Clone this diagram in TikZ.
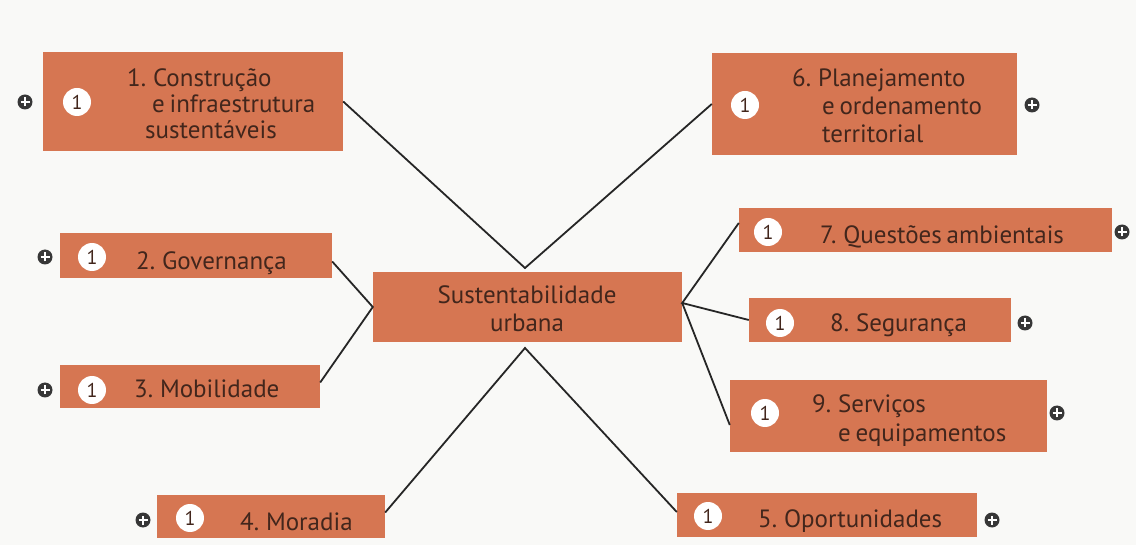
\documentclass[tikz,border=0pt]{standalone}
\usepackage{fontspec}
\setmainfont[WordSpace=0.7]{PT Sans}
\definecolor{boxfill}{RGB}{214,118,82}
\definecolor{txt}{RGB}{66,38,28}
\definecolor{bg}{RGB}{249,249,247}
\definecolor{plusc}{RGB}{55,55,55}
\tikzset{
  box/.style={fill=boxfill, draw=none, inner sep=0, rectangle},
  lbl/.style={anchor=base west, inner sep=0, text=txt, font=\fontsize{25}{27}\selectfont},
  clbl/.style={anchor=base, inner sep=0, text=txt, font=\fontsize{25}{27}\selectfont},
  num/.style={circle, fill=white, minimum size=28pt, inner sep=0, text=txt, font=\fontsize{20}{20}\selectfont},
  plus/.style={circle, fill=plusc, minimum size=15pt, inner sep=0,
    path picture={
      \draw[white, line width=2.4pt] ([xshift=-4.5pt]path picture bounding box.center) -- ([xshift=4.5pt]path picture bounding box.center);
      \draw[white, line width=2.4pt] ([yshift=-4.5pt]path picture bounding box.center) -- ([yshift=4.5pt]path picture bounding box.center);
    }},
  conn/.style={draw=black!85, line width=1.8pt}
}
\begin{document}
\begin{tikzpicture}[x=1pt, y=-1pt]
\fill[bg] (0,0) rectangle (1136,545);
\useasboundingbox (0,0) rectangle (1136,545);

% apex coordinates
\coordinate (ctop) at (525,268);
\coordinate (cbot) at (525,348);

% boxes
\node[box, minimum width=300pt, minimum height=99pt] (b1) at (193,101.5) {};
\node[box, minimum width=305pt, minimum height=102pt] (b6) at (864.5,104) {};
\node[box, minimum width=309pt, minimum height=70pt] (c) at (527.5,307) {};
\node[box, minimum width=272pt, minimum height=45pt] (b2) at (196,255.5) {};
\node[box, minimum width=260pt, minimum height=43pt] (b3) at (190,386.5) {};
\node[box, minimum width=228pt, minimum height=43pt] (b4) at (271,516.5) {};
\node[box, minimum width=300pt, minimum height=44pt] (b5) at (827,515) {};
\node[box, minimum width=373pt, minimum height=44pt] (b7) at (925.5,230) {};
\node[box, minimum width=262pt, minimum height=44pt] (b8) at (880,320) {};
\node[box, minimum width=317pt, minimum height=72pt] (b9) at (888.5,416) {};

% connectors
\draw[conn] (b1.east) -- (ctop) -- (b6.west);
\draw[conn] ([yshift=-6pt]b2.east) -- (c.west) -- ([yshift=4pt]b3.east);
\draw[conn] ([yshift=4pt]b4.east) -- (cbot) -- ([yshift=3pt]b5.west);
\draw[conn] ([yshift=7pt]b7.west) -- ([yshift=4pt]c.east) -- (b8.west);
\draw[conn] ([yshift=4pt]c.east) -- ([yshift=-9pt]b9.west);

% texts
\node[lbl] (t1a) at (127,87) {1. Construção};
\node[lbl] (t1b) at (152,113) {e infraestrutura};
\node[lbl] (t1c) at (145,139) {sustentáveis};
\node[lbl] (t6a) at (792,87) {6. Planejamento};
\node[lbl] (t6b) at (822,115) {e ordenamento};
\node[lbl] (t6c) at (822,143) {territorial};
\node[lbl] (t2) at (136,270) {2. Governança};
\node[lbl] (t3) at (134,398) {3. Mobilidade};
\node[lbl] (t4) at (240,530) {4. Moradia};
\node[lbl] (t5) at (758,527) {5. Oportunidades};
\node[lbl] (t7) at (820,244) {7. Questões ambientais};
\node[lbl] (t8) at (830,332) {8. Segurança};
\node[lbl] (t9a) at (812,413) {9. Serviços};
\node[lbl] (t9b) at (838,442) {e equipamentos};
\node[clbl] (tca) at (527,304) {Sustentabilidade};
\node[clbl] (tcb) at (527,332) {urbana};

% number badges
\node[num] (n1) at (77,102) {1};
\node[num] (n6) at (745,105) {1};
\node[num] (n2) at (92,257) {1};
\node[num] (n3) at (92,390) {1};
\node[num] (n4) at (190,518) {1};
\node[num] (n5) at (708,516) {1};
\node[num] (n7) at (768,232) {1};
\node[num] (n8) at (780,323) {1};
\node[num] (n9) at (765,413) {1};

% plus icons
\node[plus] (p1) at (25,102) {};
\node[plus] (p6) at (1032,105) {};
\node[plus] (p2) at (45,257) {};
\node[plus] (p3) at (45,390) {};
\node[plus] (p4) at (143,520) {};
\node[plus] (p5) at (992,520) {};
\node[plus] (p7) at (1122,232) {};
\node[plus] (p8) at (1025,323) {};
\node[plus] (p9) at (1057,413) {};
\end{tikzpicture}
\end{document}
